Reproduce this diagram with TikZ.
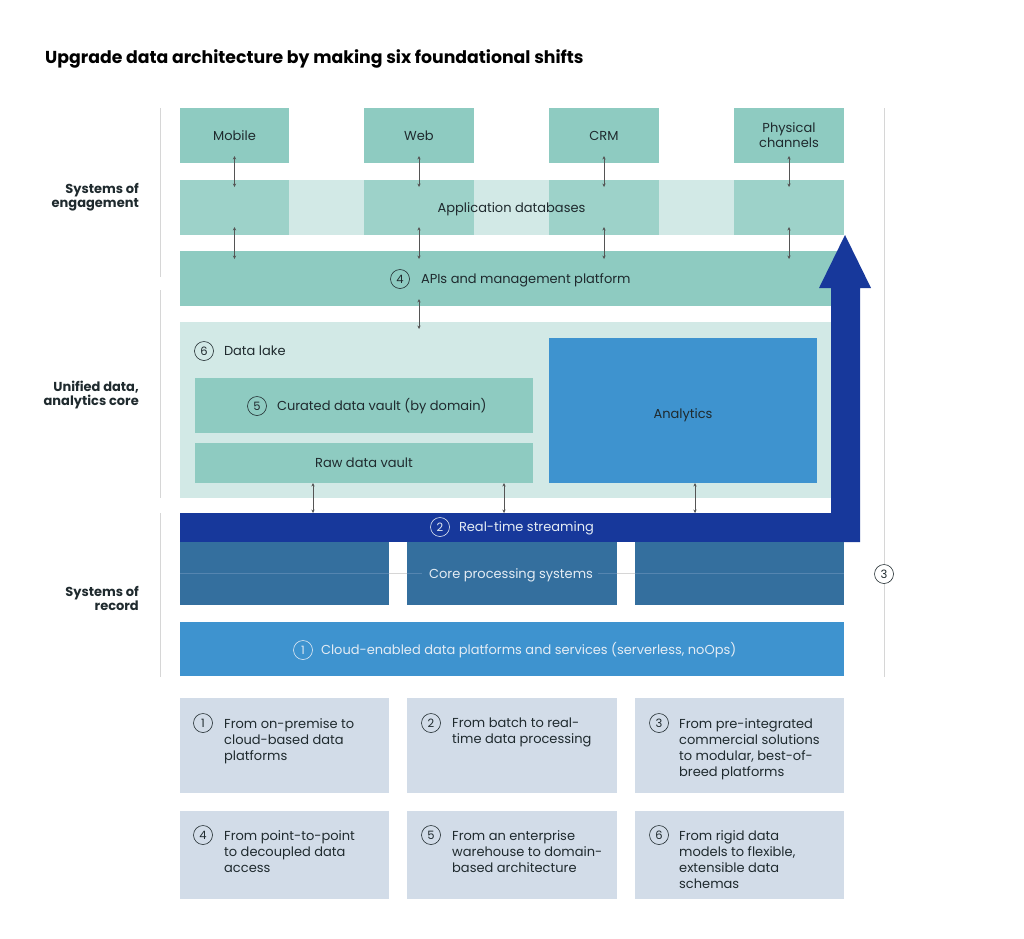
\documentclass[tikz,border=0pt]{standalone}
\usepackage{fontspec}
\setmainfont{Poppins}
\usetikzlibrary{arrows.meta,calc}
\definecolor{ink}{HTML}{1F2A2E}
\definecolor{tealmid}{HTML}{8ECBC1}
\definecolor{tealsoft}{HTML}{9DD2C9}
\definecolor{tealpale}{HTML}{D2E9E6}
\definecolor{skyblue}{HTML}{3E93CF}
\definecolor{navy}{HTML}{17389B}
\definecolor{steel}{HTML}{346F9E}
\definecolor{steelline}{HTML}{5585B0}
\definecolor{mist}{HTML}{D2DCE8}
\definecolor{rulegrey}{HTML}{D6D6D6}
\definecolor{arrowgrey}{HTML}{555555}
\definecolor{palefont}{HTML}{E4ECF4}

\begin{document}
\begin{tikzpicture}[x=1pt,y=-1pt,
  blk/.style={inner sep=0pt, outer sep=0pt, anchor=north west, text=ink,
              font=\fontsize{13}{15}\selectfont, align=center},
  txt/.style={inner sep=0pt, outer sep=0pt, text=ink, text height=9.2pt, text depth=0pt,
              font=\fontsize{13}{15}\selectfont},
  num/.style={circle, draw=ink, line width=0.6pt, minimum size=19pt, inner sep=0pt,
              text=ink, font=\fontsize{11.5}{12}\selectfont},
  numw/.style={num, draw=palefont, text=palefont},
  dbl/.style={{Stealth[length=3.5pt,width=3.4pt]}-{Stealth[length=3.5pt,width=3.4pt]},
              draw=arrowgrey, line width=0.9pt},
  lbl/.style={inner sep=0pt, anchor=east, align=right, text=ink,
              font=\bfseries\fontsize{13}{14}\selectfont},
  shiftbox/.style={blk, fill=mist, minimum width=209pt},
  shifttext/.style={inner sep=0pt, anchor=north west, align=left, text=ink,
              font=\fontsize{13}{16}\selectfont},
  rulel/.style={draw=rulegrey, line width=0.8pt}
]
\useasboundingbox (0,0) rectangle (1024,938);

% title
\node[anchor=west, inner sep=0pt, text=black, font=\bfseries\fontsize{17.3}{20}\selectfont]
  (title) at (45,59) {Upgrade data architecture by making six foundational shifts};

% side rules
\draw[rulel] (160,108) -- (160,277);
\draw[rulel] (160,290) -- (160,498);
\draw[rulel] (160,513) -- (160,677);
\draw[rulel] (884,108) -- (884,677);

% layer labels
\node[lbl] (engage) at (139,197) {Systems of\\engagement};
\node[lbl] (unified) at (139,395) {Unified data,\\analytics core};
\node[lbl] (record) at (139,598) {Systems of\\record};

% channels
\node[blk, fill=tealmid, minimum width=109pt, minimum height=55pt] (mobile) at (180,108) {Mobile};
\node[blk, fill=tealmid, minimum width=110pt, minimum height=55pt] (web) at (364,108) {Web};
\node[blk, fill=tealmid, minimum width=110pt, minimum height=55pt] (crm) at (549,108) {CRM};
\node[blk, fill=tealmid, minimum width=110pt, minimum height=55pt] (phys) at (734,108) {Physical\\channels};

% application databases
\node[blk, fill=tealpale, minimum width=664pt, minimum height=55pt] (appdb) at (180,180) {};
\node[blk, fill=tealsoft, minimum width=109pt, minimum height=55pt] (dbm) at (180,180) {};
\node[blk, fill=tealsoft, minimum width=110pt, minimum height=55pt] (dbw) at (364,180) {};
\node[blk, fill=tealsoft, minimum width=110pt, minimum height=55pt] (dbc) at (549,180) {};
\node[blk, fill=tealsoft, minimum width=110pt, minimum height=55pt] (dbp) at (734,180) {};
\node[txt] (appdbtext) at (511.5,208) {Application databases};

% APIs
\node[blk, fill=tealmid, minimum width=664pt, minimum height=55pt] (apis) at (180,251) {};
\node[num] (n4) at (400,279) {4};
\node[txt, anchor=west] (apistext) at (421,279) {APIs and management platform};

% data lake
\node[blk, fill=tealpale, minimum width=651pt, minimum height=176pt] (lake) at (180,322) {};
\node[num] (n6) at (204,351) {6};
\node[txt, anchor=west] (laketext) at (224,351) {Data lake};
\node[blk, fill=tealmid, minimum width=338pt, minimum height=55pt] (curated) at (195,378) {};
\node[num] (n5) at (257,406) {5};
\node[txt, anchor=west] (curatedtext) at (277,406) {Curated data vault (by domain)};
\node[blk, fill=tealmid, minimum width=338pt, minimum height=40pt] (raw) at (195,443) {};
\node[txt] (rawtext) at (raw.center) {Raw data vault};
\node[blk, fill=skyblue, minimum width=268pt, minimum height=145pt] (analytics) at (549,338) {};
\node[txt] (analyticstext) at ($(analytics.center)+(0,3.5)$) {Analytics};

% real-time streaming bar and upward arrow
\node[blk, fill=navy, minimum width=680pt, minimum height=29pt] (stream) at (180,513) {};
\fill[navy] (831,514) -- (831,288) -- (819,288) -- (845,235) -- (871,288) -- (860,288) -- (860,542) -- (831,542) -- cycle;
\node[numw] (n2) at (440,527) {2};
\node[txt, anchor=west, text=palefont] (streamtext) at (459,527) {Real-time streaming};

% core processing systems
\node[blk, fill=steel, minimum width=209pt, minimum height=63pt] (core1) at (180,542) {};
\node[blk, fill=steel, minimum width=210pt, minimum height=63pt] (core2) at (407,542) {};
\node[blk, fill=steel, minimum width=209pt, minimum height=63pt] (core3) at (635,542) {};
\draw[draw=steelline, line width=0.8pt] (core1.west) -- (core1.east);
\draw[draw=rulegrey, line width=0.8pt] (core1.east) -- (core2.west);
\draw[draw=steelline, line width=0.8pt] (core2.west) -- (422,573.5);
\draw[draw=steelline, line width=0.8pt] (598,573.5) -- (core2.east);
\draw[draw=rulegrey, line width=0.8pt] (core2.east) -- (core3.west);
\draw[draw=steelline, line width=0.8pt] (core3.west) -- (core3.east);
\node[txt, text=palefont] (coretext) at (511,574) {Core processing systems};

% cloud platforms
\node[blk, fill=skyblue, minimum width=664pt, minimum height=54pt] (cloud) at (180,622) {};
\node[numw] (n1) at (303,650) {1};
\node[txt, anchor=west, text=palefont] (cloudtext) at (321,650) {Cloud-enabled data platforms and services (serverless, noOps)};

% modular platforms marker
\node[num, fill=white] (n3) at (884,574) {3};

% connectors
\draw[dbl] ([yshift=7pt]mobile.south) -- ([yshift=-7pt]dbm.north);
\draw[dbl] ([yshift=7pt]web.south) -- ([yshift=-7pt]dbw.north);
\draw[dbl] ([yshift=7pt]crm.south) -- ([yshift=-7pt]dbc.north);
\draw[dbl] ([yshift=7pt]phys.south) -- ([yshift=-7pt]dbp.north);
\draw[dbl] ([yshift=8pt]dbm.south) -- ($(apis.north -| dbm.south)+(0,8)$);
\draw[dbl] ([yshift=8pt]dbw.south) -- ($(apis.north -| dbw.south)+(0,8)$);
\draw[dbl] ([yshift=8pt]dbc.south) -- ($(apis.north -| dbc.south)+(0,8)$);
\draw[dbl] ([yshift=8pt]dbp.south) -- ($(apis.north -| dbp.south)+(0,8)$);
\draw[dbl] ($(apis.south -| web.south)+(0,-7)$) -- ($(lake.north -| web.south)+(0,7)$);
\draw[dbl] (raw.south -| 313,0) -- (stream.north -| 313,0);
\draw[dbl] (raw.south -| 504,0) -- (stream.north -| 504,0);
\draw[dbl] (analytics.south -| 695,0) -- (stream.north -| 695,0);

% six shifts
\node[shiftbox, minimum height=95pt] (s1) at (180,698) {};
\node[shiftbox, minimum width=210pt, minimum height=95pt] (s2) at (407,698) {};
\node[shiftbox, minimum height=95pt] (s3) at (635,698) {};
\node[shiftbox, minimum height=88pt] (s4) at (180,811) {};
\node[shiftbox, minimum width=210pt, minimum height=88pt] (s5) at (407,811) {};
\node[shiftbox, minimum height=88pt] (s6) at (635,811) {};

\node[num] (c1) at (203,723) {1};
\node[shifttext] (t1) at (224,718) {From on-premise to\\cloud-based data\\platforms};
\node[num] (c2) at (431,723) {2};
\node[shifttext] (t2) at (452,718) {From batch to real-\\time data processing};
\node[num] (c3) at (659,723) {3};
\node[shifttext] (t3) at (679,718) {From pre-integrated\\commercial solutions\\to modular, best-of-\\breed platforms};
\node[num] (c4) at (203,835) {4};
\node[shifttext] (t4) at (224,830) {From point-to-point\\to decoupled data\\access};
\node[num] (c5) at (431,835) {5};
\node[shifttext] (t5) at (452,830) {From an enterprise\\warehouse to domain-\\based architecture};
\node[num] (c6) at (659,835) {6};
\node[shifttext] (t6) at (679,830) {From rigid data\\models to flexible,\\extensible data\\schemas};
\end{tikzpicture}
\end{document}
